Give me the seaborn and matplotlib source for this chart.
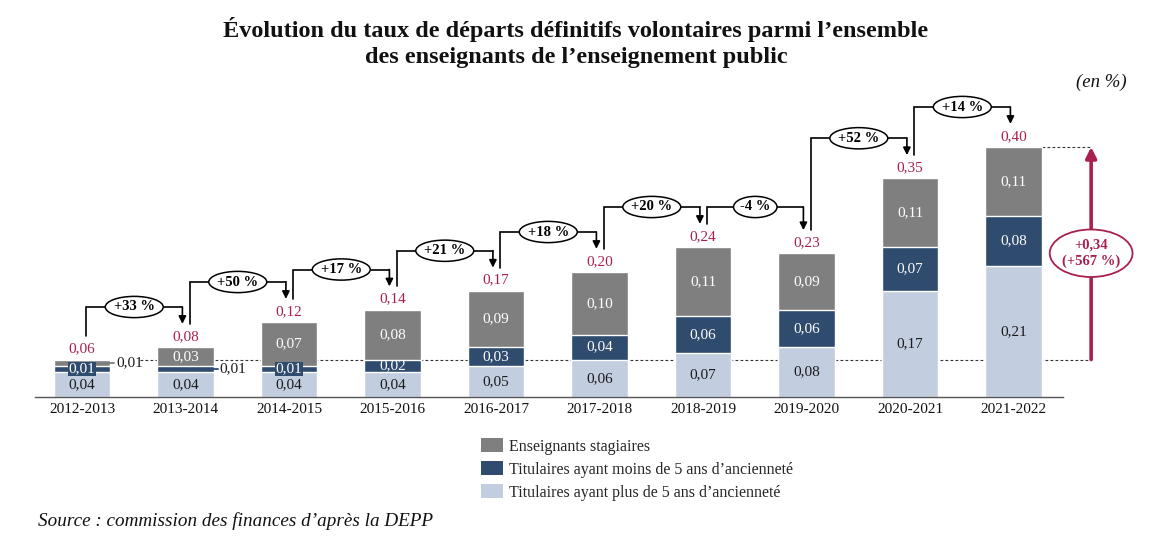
import matplotlib
matplotlib.use("Agg")
import matplotlib.pyplot as plt
from matplotlib.patches import Ellipse, Patch
import numpy as np
import pandas as pd
import seaborn as sns

# data (en %)
years = ["2012-2013", "2013-2014", "2014-2015", "2015-2016", "2016-2017",
         "2017-2018", "2018-2019", "2019-2020", "2020-2021", "2021-2022"]
plus5 = [0.04, 0.04, 0.04, 0.04, 0.05, 0.06, 0.07, 0.08, 0.17, 0.21]
moins5 = [0.01, 0.01, 0.01, 0.02, 0.03, 0.04, 0.06, 0.06, 0.07, 0.08]
stagiaires = [0.01, 0.03, 0.07, 0.08, 0.09, 0.10, 0.11, 0.09, 0.11, 0.11]
totaux = [0.06, 0.08, 0.12, 0.14, 0.17, 0.20, 0.24, 0.23, 0.35, 0.40]
evolutions = ["+33 %", "+50 %", "+17 %", "+21 %", "+18 %", "+20 %", "-4 %", "+52 %", "+14 %"]
ecart_label = "+0,34\n(+567 %)"

legend_labels = ["Enseignants stagiaires",
                 "Titulaires ayant moins de 5 ans d’ancienneté",
                 "Titulaires ayant plus de 5 ans d’ancienneté"]

c_stag = "#7f7f7f"
c_moins = "#2f4b6e"
c_plus = "#c2cee0"
c_red = "#a8204c"

sns.set_theme(style="white")
plt.rcParams["font.family"] = ["Liberation Serif", "DejaVu Serif"]


def fmt(v):
    return f"{v:.2f}".replace(".", ",")


df = pd.DataFrame({"annee": years, "plus5": plus5, "moins5": moins5, "stag": stagiaires})
df["cum2"] = df["plus5"] + df["moins5"]
df["cum3"] = df["cum2"] + df["stag"]

fig = plt.figure(figsize=(11.52, 5.46), dpi=100)
ax = fig.add_axes([35 / 1152, 149 / 546, 1105 / 1152, 337 / 546])

# stacked bars: draw cumulative heights from the top down
sns.barplot(data=df, x="annee", y="cum3", color=c_stag, saturation=1, width=0.55, ax=ax, zorder=2)
sns.barplot(data=df, x="annee", y="cum2", color=c_moins, saturation=1, width=0.55, ax=ax, zorder=2)
sns.barplot(data=df, x="annee", y="plus5", color=c_plus, saturation=1, width=0.55, ax=ax, zorder=2)

ax.set_xlim(-0.454, 10.222)
ax.set_ylim(0, 0.5392)
ax.set_xlabel("")
ax.set_ylabel("")
ax.set_yticks([])
ax.set_xticks(range(len(years)))
ax.set_xticklabels(years, fontsize=11, color="#111111")
ax.tick_params(axis="x", length=0, pad=4)
for s in ["top", "right", "left"]:
    ax.spines[s].set_visible(False)
ax.spines["bottom"].set_bounds(-0.454, 9.478)
ax.spines["bottom"].set_color("#555555")
ax.spines["bottom"].set_linewidth(1)

# segment labels
dehors = {(0, "stag"), (1, "moins")}
segments = [(plus5, c_plus, "#1a1a1a", "plus"),
            (moins5, c_moins, "white", "moins"),
            (stagiaires, c_stag, "white", "stag")]
for i in range(len(years)):
    y0 = 0
    for vals, col, tcol, key in segments:
        v = vals[i]
        mid = y0 + v / 2
        if (i, key) in dehors:
            ax.plot([i + 0.24, i + 0.31], [mid, mid], color=col, lw=1.3, zorder=3)
            ax.text(i + 0.33, mid, fmt(v), ha="left", va="center", fontsize=11,
                    color="#1a1a1a", zorder=4)
        else:
            bbox = None
            if v < 0.015:
                bbox = dict(boxstyle="square,pad=0.05", fc=col, ec="none")
            ax.text(i, mid, fmt(v), ha="center", va="center", fontsize=11,
                    color=tcol, bbox=bbox, zorder=4)
        y0 += v
    ax.text(i, totaux[i] + 0.017, fmt(totaux[i]), ha="center", va="center",
            fontsize=11, color=c_red, zorder=4)

# connectors with the year-on-year change
for i, lab in enumerate(evolutions):
    xs = i + 0.04
    xe = i + 1 - 0.03
    ys = totaux[i] + 0.037
    ye = totaux[i + 1] + 0.037
    lvl = max(totaux[i], totaux[i + 1]) + 0.064
    ax.plot([xs, xs, xe], [ys, lvl, lvl], color="black", lw=1.2, zorder=3,
            solid_joinstyle="miter")
    ax.annotate("", xy=(xe, ye), xytext=(xe, lvl),
                arrowprops=dict(arrowstyle="-|>", color="black", lw=1.2,
                                shrinkA=0, shrinkB=0, mutation_scale=11), zorder=3)
    w = 0.14 * len(lab) - 0.14
    ax.add_patch(Ellipse(((xs + xe) / 2, lvl), w, 0.034, fc="white", ec="black",
                         lw=1.1, zorder=5))
    ax.text((xs + xe) / 2, lvl, lab, ha="center", va="center", fontsize=10.5,
            fontweight="bold", color="black", zorder=6)

# overall change arrow
xa = 9.75
ax.plot([0.56, xa], [totaux[0], totaux[0]], color="#333333", lw=0.8,
        ls=(0, (2.5, 2)), zorder=1)
ax.plot([9.275, xa], [totaux[-1], totaux[-1]], color="#333333", lw=0.8,
        ls=(0, (2.5, 2)), zorder=1)
ax.annotate("", xy=(xa, totaux[-1]), xytext=(xa, totaux[0]),
            arrowprops=dict(arrowstyle="-|>", color=c_red, lw=2.6,
                            shrinkA=0, shrinkB=0, mutation_scale=16), zorder=3)
ymid = (totaux[0] + totaux[-1]) / 2
ax.add_patch(Ellipse((xa, ymid), 0.8, 0.076, fc="white", ec=c_red, lw=1.3, zorder=5))
ax.text(xa, ymid, ecart_label, ha="center", va="center", fontsize=10.5,
        fontweight="bold", color=c_red, linespacing=1.2, zorder=6)

# texts
fig.text(0.5, 1 - 30 / 546, "Évolution du taux de départs définitifs volontaires parmi l’ensemble",
         ha="center", va="center", fontsize=17.5, fontweight="bold", color="#111111")
fig.text(0.5, 1 - 57 / 546, "des enseignants de l’enseignement public",
         ha="center", va="center", fontsize=17.5, fontweight="bold", color="#111111")
fig.text(1127 / 1152, 1 - 82 / 546, "(en %)", ha="right", va="center", fontsize=13.5,
         style="italic", color="#111111")
fig.text(38 / 1152, 1 - 521 / 546, "Source : commission des finances d’après la DEPP",
         ha="left", va="center", fontsize=13.8, style="italic", color="#111111")

handles = [Patch(fc=c, ec="none") for c in [c_stag, c_moins, c_plus]]
fig.legend(handles, legend_labels, loc="upper left", bbox_to_anchor=(481 / 1152, 1 - 438 / 546),
           frameon=False, fontsize=11.5, handlelength=1.35, handleheight=1.0,
           labelspacing=0.4, borderpad=0, borderaxespad=0, handletextpad=0.4)

fig.savefig("out.png", dpi=100)
